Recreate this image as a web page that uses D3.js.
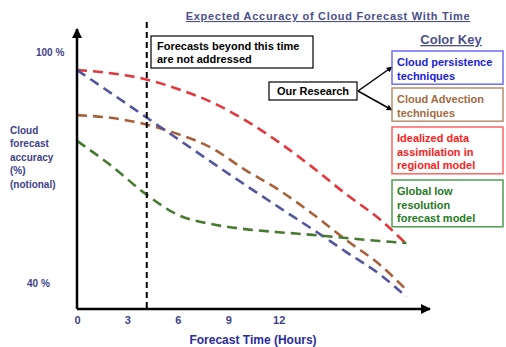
<!DOCTYPE html>
<html>
<head>
<meta charset="utf-8">
<script src="https://cdn.jsdelivr.net/npm/d3@7"></script>
<style>
  body { margin: 0; background: #fff; }
  text { font-family: "Liberation Sans", Arial, sans-serif; font-weight: bold; }
</style>
</head>
<body>
<svg class="chart" width="506" height="347"></svg>
<script>
// forecast hours sampled along each curve
let hours = [0, 2, 4, 6, 8, 10, 12, 14, 16, 18, 19.6]

// notional accuracy (%)
let idealized = [95.3, 94.5, 93.0, 90.4, 87.0, 82.3, 76.6, 70.1, 63.1, 56.6, 50.1]
let persistence = [95.3, 89.4, 83.4, 77.4, 71.4, 65.5, 59.7, 54.0, 48.1, 42.3, 36.4]
let advection = [83.6, 82.9, 81.3, 78.7, 75.1, 69.4, 64.2, 58.0, 51.2, 44.8, 38.2]
let globalModel = [76.9, 70.6, 63.4, 57.7, 55.3, 54.0, 53.2, 52.5, 51.7, 50.9, 50.4]

let xTicks = [0, 3, 6, 9, 12]
let yTicks = [100, 40]
let yTickLabels = ['100 %', '40 %']
let cutoffHour = 4.15

let legendKeys = [
  { lines: ['Cloud persistence', 'techniques'], color: '#1c1ce0', border: '#6e6ef2' },
  { lines: ['Cloud Advection', 'techniques'], color: '#a36b3f', border: '#b88d6c' },
  { lines: ['Idealized data', 'assimilation in', 'regional model'], color: '#ff1c1c', border: '#ff6262' },
  { lines: ['Global low', 'resolution', 'forecast model'], color: '#1f7a1f', border: '#4f9c4f' }
]

let series = [
  { values: idealized, color: '#e3373d' },
  { values: advection, color: '#a8603a' },
  { values: persistence, color: '#52569f' },
  { values: globalModel, color: '#477a30' }
]

let svg = d3.select('.chart')
let axisColor = '#3f418a'

let x = d3.scaleLinear().domain([0, 21]).range([77, 430])
let y = d3.scaleLinear().domain([40, 100]).range([283, 52])
let baseY = 309

// arrow marker
svg.append('defs').append('marker')
  .attr('id', 'arrow')
  .attr('viewBox', '0 0 10 10')
  .attr('refX', 9).attr('refY', 5)
  .attr('markerWidth', 4).attr('markerHeight', 4)
  .attr('orient', 'auto')
  .append('path').attr('d', 'M0,0 L10,5 L0,10 z').attr('fill', '#000')

// title
svg.append('text')
  .attr('x', 328).attr('y', 20)
  .attr('text-anchor', 'middle')
  .attr('font-size', 11)
  .attr('letter-spacing', 0.7)
  .attr('fill', '#4b4f8c')
  .attr('text-decoration', 'underline')
  .text('Expected Accuracy of Cloud Forecast With Time')

svg.append('text')
  .attr('x', 451).attr('y', 44)
  .attr('text-anchor', 'middle')
  .attr('font-size', 13)
  .attr('fill', '#4b4f8c')
  .attr('text-decoration', 'underline')
  .text('Color Key')

// curves
let line = d3.line()
  .x((d, i) => x(hours[i]))
  .y(d => y(d))
  .curve(d3.curveMonotoneX)

svg.selectAll('.curve')
  .data(series)
  .enter()
  .append('path')
  .attr('class', 'curve')
  .attr('d', d => line(d.values))
  .attr('fill', 'none')
  .attr('stroke', d => d.color)
  .attr('stroke-width', 2.6)
  .attr('stroke-dasharray', '10,6')

// cutoff line
svg.append('line')
  .attr('x1', x(cutoffHour)).attr('x2', x(cutoffHour))
  .attr('y1', 22).attr('y2', baseY)
  .attr('stroke', '#000')
  .attr('stroke-width', 2)
  .attr('stroke-dasharray', '6,4')

// axes with arrows
svg.append('line')
  .attr('x1', x(0)).attr('x2', x(0))
  .attr('y1', baseY).attr('y2', 29)
  .attr('stroke', '#000').attr('stroke-width', 2.5)
  .attr('marker-end', 'url(#arrow)')

svg.append('line')
  .attr('x1', x(0)).attr('x2', x(21))
  .attr('y1', baseY).attr('y2', baseY)
  .attr('stroke', '#000').attr('stroke-width', 2.5)
  .attr('marker-end', 'url(#arrow)')

let xAxis = svg.append('g')
  .attr('transform', 'translate(0,' + baseY + ')')
  .call(d3.axisBottom(x).tickValues(xTicks).tickSize(0).tickPadding(7))
xAxis.select('.domain').remove()
xAxis.selectAll('text')
  .attr('font-family', '"Liberation Sans", Arial, sans-serif')
  .attr('font-size', 11)
  .attr('fill', axisColor)

svg.append('text')
  .attr('x', 253).attr('y', 344)
  .attr('text-anchor', 'middle')
  .attr('font-size', 12)
  .attr('fill', '#2b2ba3')
  .text('Forecast Time (Hours)')

// y tick labels
svg.selectAll('.ylab')
  .data(yTicks)
  .enter()
  .append('text')
  .attr('class', 'ylab')
  .attr('x', (d, i) => i === 0 ? 36 : 27)
  .attr('y', d => y(d) + 4)
  .attr('font-size', 10)
  .attr('fill', axisColor)
  .text((d, i) => yTickLabels[i])

svg.append('text')
  .attr('font-size', 10)
  .attr('fill', axisColor)
  .selectAll('tspan')
  .data(['Cloud', 'forecast', 'accuracy', '(%)', '(notional)'])
  .enter()
  .append('tspan')
  .attr('x', 10)
  .attr('y', (d, i) => 134 + i * 13.4)
  .text(d => d)

// note box
svg.append('rect')
  .attr('x', 151).attr('y', 36).attr('width', 162).attr('height', 32)
  .attr('fill', '#fff').attr('stroke', '#000').attr('stroke-width', 1.2)
svg.append('text')
  .attr('font-size', 11)
  .attr('fill', '#000')
  .selectAll('tspan')
  .data(['Forecasts beyond this time', 'are not addressed'])
  .enter()
  .append('tspan')
  .attr('x', 157)
  .attr('y', (d, i) => 50 + i * 13)
  .text(d => d)

// our research
svg.append('rect')
  .attr('x', 269).attr('y', 82).attr('width', 88).attr('height', 18)
  .attr('fill', '#fff').attr('stroke', '#000').attr('stroke-width', 1.2)
svg.append('text')
  .attr('x', 313).attr('y', 95)
  .attr('text-anchor', 'middle')
  .attr('font-size', 11)
  .attr('fill', '#000')
  .text('Our Research')

svg.append('line')
  .attr('x1', 358).attr('y1', 91).attr('x2', 392).attr('y2', 67)
  .attr('stroke', '#000').attr('stroke-width', 1.5).attr('marker-end', 'url(#arrow)')
svg.append('line')
  .attr('x1', 358).attr('y1', 91).attr('x2', 392).attr('y2', 110)
  .attr('stroke', '#000').attr('stroke-width', 1.5).attr('marker-end', 'url(#arrow)')

// legend boxes
let boxTops = [51, 88, 127, 180]
let legend = svg.selectAll('.key')
  .data(legendKeys)
  .enter()
  .append('g')
  .attr('class', 'key')
  .attr('transform', (d, i) => 'translate(392,' + boxTops[i] + ')')

legend.append('rect')
  .attr('width', 111)
  .attr('height', d => d.lines.length * 13.6 + 6)
  .attr('fill', '#fff')
  .attr('stroke', d => d.border)
  .attr('stroke-width', 1.5)

legend.append('text')
  .attr('font-size', 11)
  .attr('fill', d => d.color)
  .selectAll('tspan')
  .data(d => d.lines)
  .enter()
  .append('tspan')
  .attr('x', 5)
  .attr('y', (d, i) => 15 + i * 13.6)
  .text(d => d)
</script>
</body>
</html>
